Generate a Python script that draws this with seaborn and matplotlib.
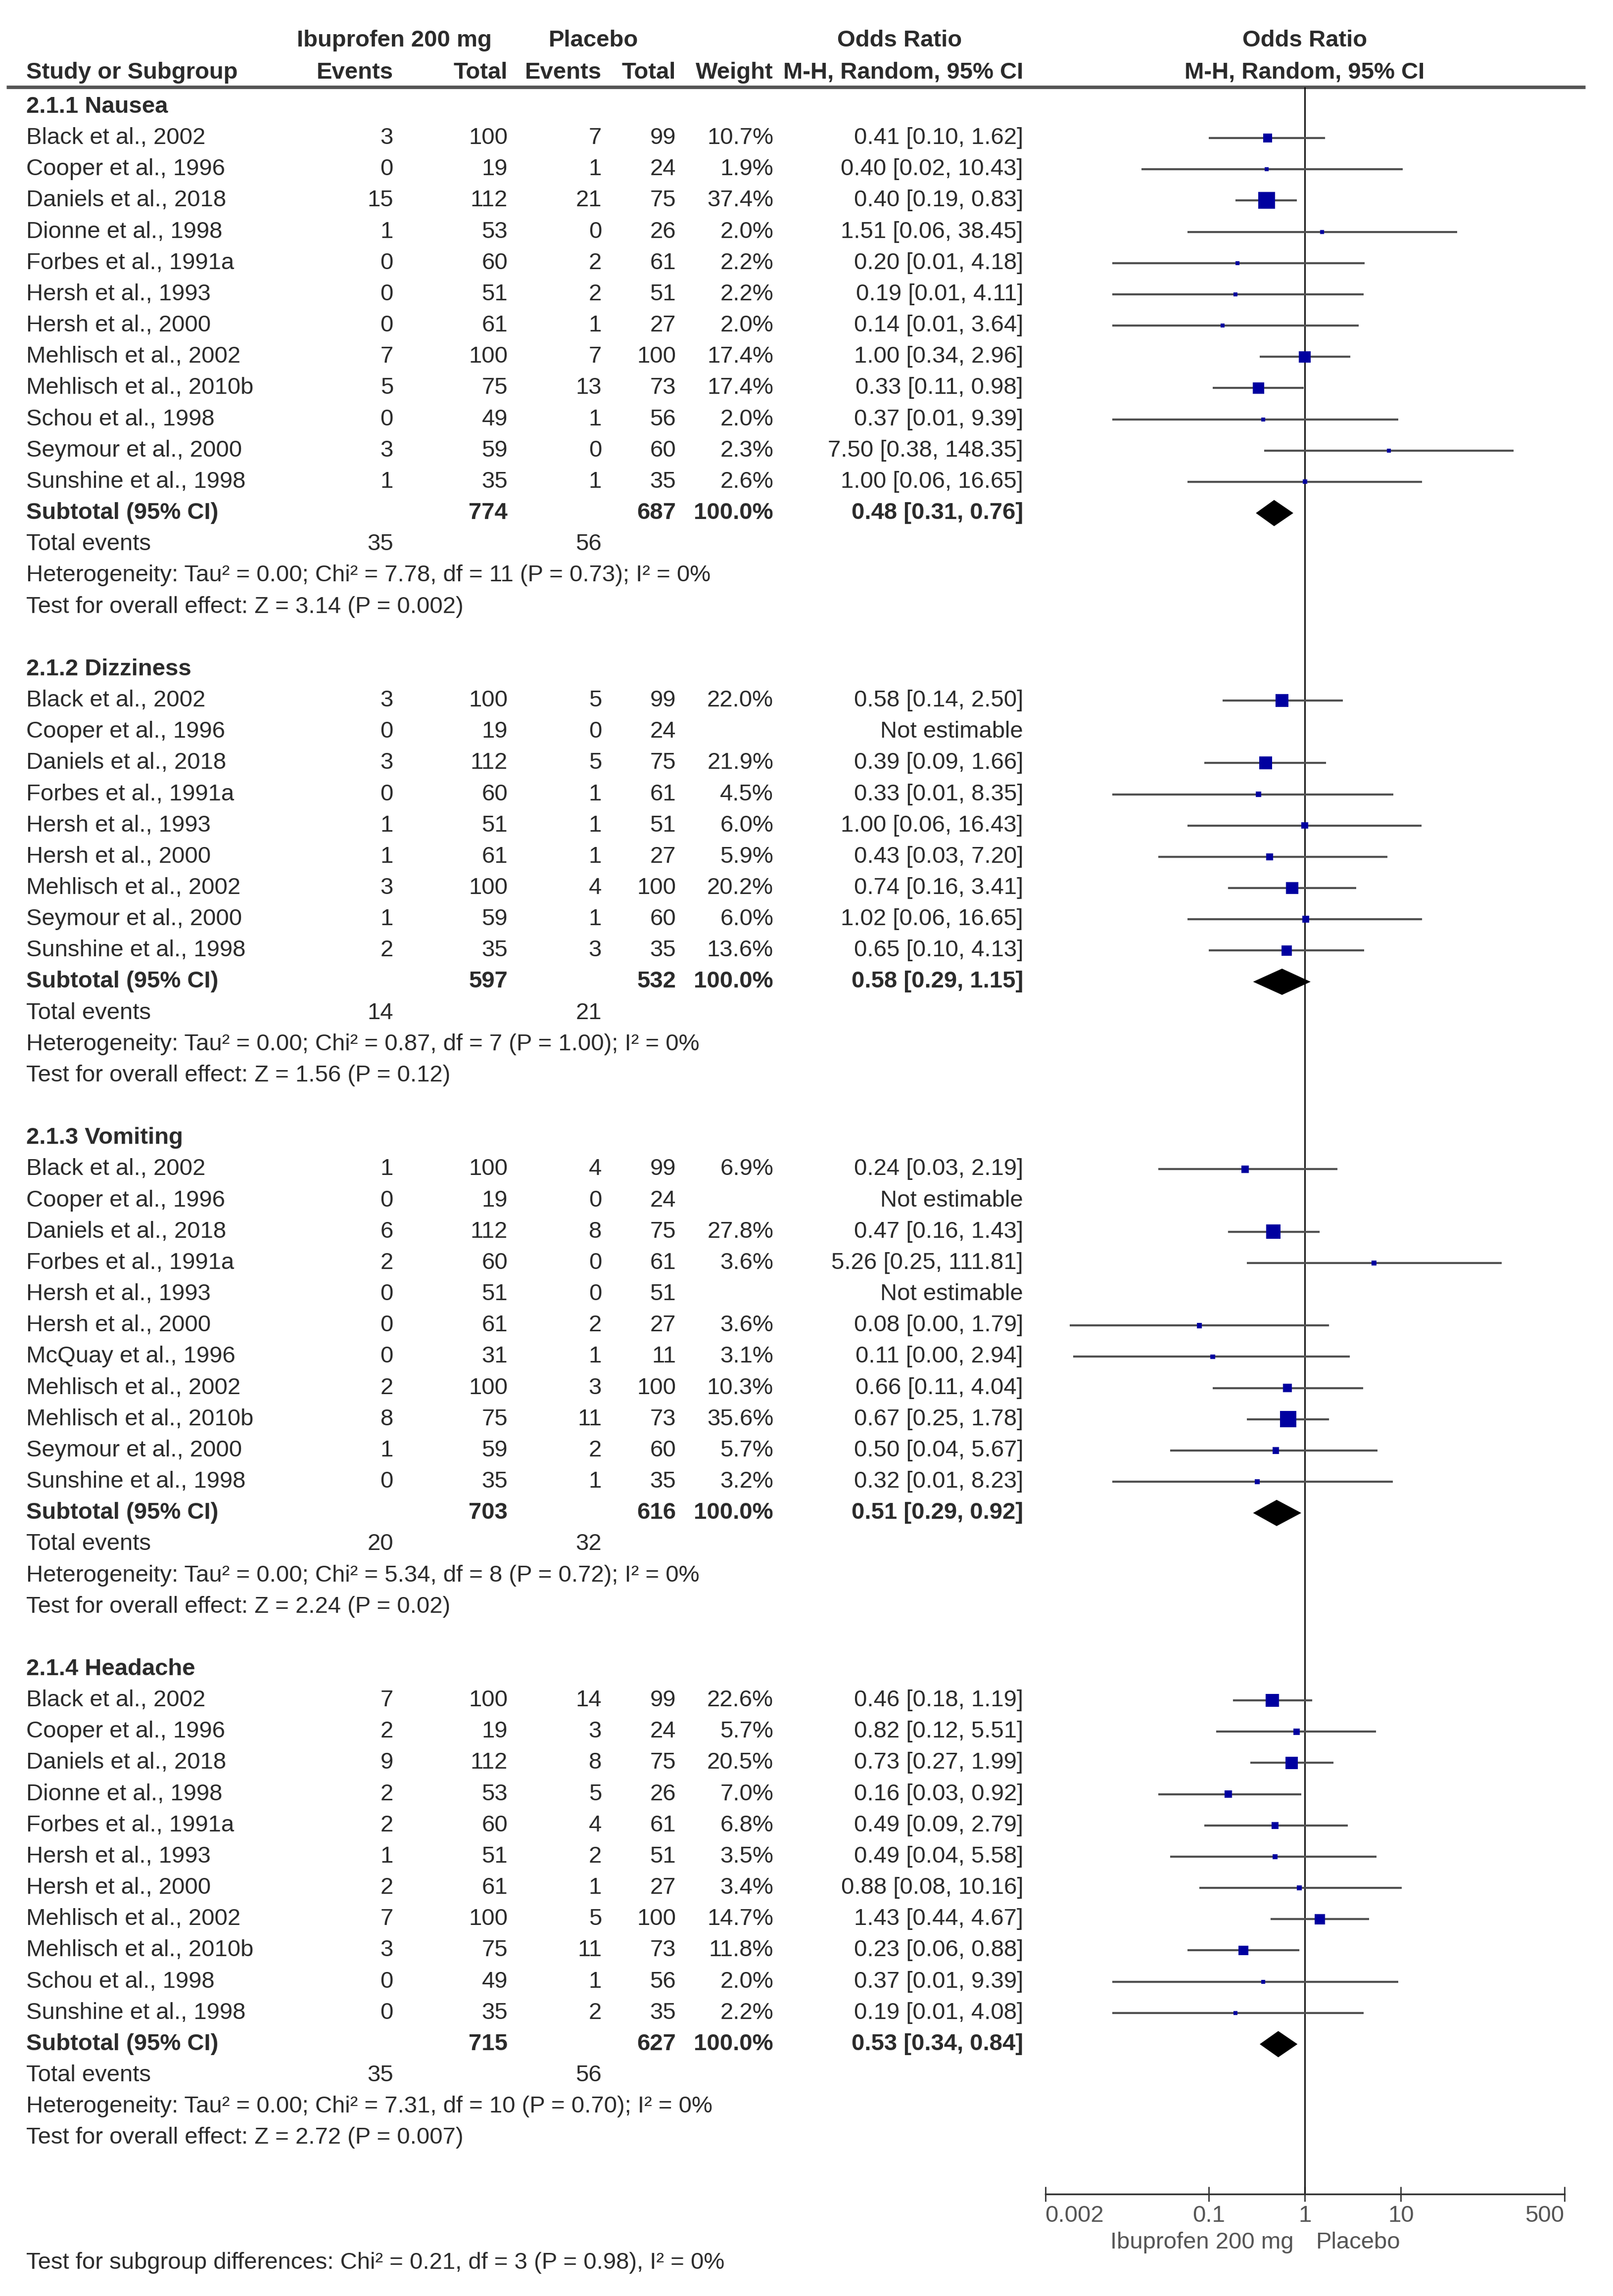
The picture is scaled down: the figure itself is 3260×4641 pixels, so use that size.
import numpy as np
import pandas as pd
import matplotlib.pyplot as plt
import matplotlib.ticker as mticker
import seaborn as sns

sns.set_theme(style='white')
plt.rcParams['font.family'] = ['Liberation Sans', 'DejaVu Sans']

# study rows: name, ibuprofen events, ibuprofen total, placebo events, placebo total, weight %, OR, CI low, CI high
nausea = [
    ('Black et al., 2002', 3, 100, 7, 99, 10.7, 0.41, 0.10, 1.62),
    ('Cooper et al., 1996', 0, 19, 1, 24, 1.9, 0.40, 0.02, 10.43),
    ('Daniels et al., 2018', 15, 112, 21, 75, 37.4, 0.40, 0.19, 0.83),
    ('Dionne et al., 1998', 1, 53, 0, 26, 2.0, 1.51, 0.06, 38.45),
    ('Forbes et al., 1991a', 0, 60, 2, 61, 2.2, 0.20, 0.01, 4.18),
    ('Hersh et al., 1993', 0, 51, 2, 51, 2.2, 0.19, 0.01, 4.11),
    ('Hersh et al., 2000', 0, 61, 1, 27, 2.0, 0.14, 0.01, 3.64),
    ('Mehlisch et al., 2002', 7, 100, 7, 100, 17.4, 1.00, 0.34, 2.96),
    ('Mehlisch et al., 2010b', 5, 75, 13, 73, 17.4, 0.33, 0.11, 0.98),
    ('Schou et al., 1998', 0, 49, 1, 56, 2.0, 0.37, 0.01, 9.39),
    ('Seymour et al., 2000', 3, 59, 0, 60, 2.3, 7.50, 0.38, 148.35),
    ('Sunshine et al., 1998', 1, 35, 1, 35, 2.6, 1.00, 0.06, 16.65),
]
dizziness = [
    ('Black et al., 2002', 3, 100, 5, 99, 22.0, 0.58, 0.14, 2.50),
    ('Cooper et al., 1996', 0, 19, 0, 24, None, None, None, None),
    ('Daniels et al., 2018', 3, 112, 5, 75, 21.9, 0.39, 0.09, 1.66),
    ('Forbes et al., 1991a', 0, 60, 1, 61, 4.5, 0.33, 0.01, 8.35),
    ('Hersh et al., 1993', 1, 51, 1, 51, 6.0, 1.00, 0.06, 16.43),
    ('Hersh et al., 2000', 1, 61, 1, 27, 5.9, 0.43, 0.03, 7.20),
    ('Mehlisch et al., 2002', 3, 100, 4, 100, 20.2, 0.74, 0.16, 3.41),
    ('Seymour et al., 2000', 1, 59, 1, 60, 6.0, 1.02, 0.06, 16.65),
    ('Sunshine et al., 1998', 2, 35, 3, 35, 13.6, 0.65, 0.10, 4.13),
]
vomiting = [
    ('Black et al., 2002', 1, 100, 4, 99, 6.9, 0.24, 0.03, 2.19),
    ('Cooper et al., 1996', 0, 19, 0, 24, None, None, None, None),
    ('Daniels et al., 2018', 6, 112, 8, 75, 27.8, 0.47, 0.16, 1.43),
    ('Forbes et al., 1991a', 2, 60, 0, 61, 3.6, 5.26, 0.25, 111.81),
    ('Hersh et al., 1993', 0, 51, 0, 51, None, None, None, None),
    ('Hersh et al., 2000', 0, 61, 2, 27, 3.6, 0.08, 0.0036, 1.79),
    ('McQuay et al., 1996', 0, 31, 1, 11, 3.1, 0.11, 0.0039, 2.94),
    ('Mehlisch et al., 2002', 2, 100, 3, 100, 10.3, 0.66, 0.11, 4.04),
    ('Mehlisch et al., 2010b', 8, 75, 11, 73, 35.6, 0.67, 0.25, 1.78),
    ('Seymour et al., 2000', 1, 59, 2, 60, 5.7, 0.50, 0.04, 5.67),
    ('Sunshine et al., 1998', 0, 35, 1, 35, 3.2, 0.32, 0.01, 8.23),
]
headache = [
    ('Black et al., 2002', 7, 100, 14, 99, 22.6, 0.46, 0.18, 1.19),
    ('Cooper et al., 1996', 2, 19, 3, 24, 5.7, 0.82, 0.12, 5.51),
    ('Daniels et al., 2018', 9, 112, 8, 75, 20.5, 0.73, 0.27, 1.99),
    ('Dionne et al., 1998', 2, 53, 5, 26, 7.0, 0.16, 0.03, 0.92),
    ('Forbes et al., 1991a', 2, 60, 4, 61, 6.8, 0.49, 0.09, 2.79),
    ('Hersh et al., 1993', 1, 51, 2, 51, 3.5, 0.49, 0.04, 5.58),
    ('Hersh et al., 2000', 2, 61, 1, 27, 3.4, 0.88, 0.08, 10.16),
    ('Mehlisch et al., 2002', 7, 100, 5, 100, 14.7, 1.43, 0.44, 4.67),
    ('Mehlisch et al., 2010b', 3, 75, 11, 73, 11.8, 0.23, 0.06, 0.88),
    ('Schou et al., 1998', 0, 49, 1, 56, 2.0, 0.37, 0.01, 9.39),
    ('Sunshine et al., 1998', 0, 35, 2, 35, 2.2, 0.19, 0.01, 4.08),
]
group_titles = ['2.1.1 Nausea', '2.1.2 Dizziness', '2.1.3 Vomiting', '2.1.4 Headache']
group_studies = [nausea, dizziness, vomiting, headache]

# subtotals per subgroup
sub_ibu_total = [774, 597, 703, 715]
sub_pla_total = [687, 532, 616, 627]
sub_or = [0.48, 0.58, 0.51, 0.53]
sub_lo = [0.31, 0.29, 0.29, 0.34]
sub_hi = [0.76, 1.15, 0.92, 0.84]
tot_ibu_events = [35, 14, 20, 35]
tot_pla_events = [56, 21, 32, 56]
het_tau2 = ['0.00', '0.00', '0.00', '0.00']
het_chi2 = ['7.78', '0.87', '5.34', '7.31']
het_df = [11, 7, 8, 10]
het_p = ['0.73', '1.00', '0.72', '0.70']
het_i2 = [0, 0, 0, 0]
z_val = ['3.14', '1.56', '2.24', '2.72']
z_p = ['0.002', '0.12', '0.02', '0.007']
subgroup_test = 'Test for subgroup differences: Chi² = 0.21, df = 3 (P = 0.98), I² = 0%'

tick_vals = [0.002, 0.1, 1, 10, 500]
tick_labels = ['0.002', '0.1', '1', '10', '500']

# ---- layout (pixel columns, row units) ----
W, H = 3260, 4641
row0, row_h = 216, 63.16
ytop, ybot = -row0 / row_h, (H - row0) / row_h
x_name, x_ie, x_it, x_pe, x_pt, x_w, x_or = 53, 795, 1026, 1216, 1366, 1563, 2068
fx0, fx1 = 2112.5, 3161.6
axis_row = 66.8
fs = 34
tc = '#2b2b2b'

fig = plt.figure(figsize=(W / 100, H / 100), dpi=100)
ax = fig.add_axes([0, 0, 1, 1])
ax.set_xlim(0, W)
ax.set_ylim(ybot, ytop)
ax.axis('off')

fax = fig.add_axes([fx0 / W, 0, (fx1 - fx0) / W, 1])
fax.patch.set_alpha(0)
fax.set_xscale('log')
fax.set_xlim(0.002, 500)
fax.set_ylim(ybot, ytop)


def txt(x, y, s, ha='left', bold=False, color=tc):
    ax.text(x, y, s, ha=ha, va='center', fontsize=fs, color=color,
            fontweight='bold' if bold else 'normal')


# header
txt(797, -2.12, 'Ibuprofen 200 mg', ha='center', bold=True)
txt(1200, -2.12, 'Placebo', ha='center', bold=True)
txt(1818, -2.12, 'Odds Ratio', ha='center', bold=True)
txt(2637, -2.12, 'Odds Ratio', ha='center', bold=True)
txt(x_name, -1.09, 'Study or Subgroup', bold=True)
for xx, s in [(x_ie, 'Events'), (x_it, 'Total'), (x_pe, 'Events'), (x_pt, 'Total'),
              (x_w, 'Weight'), (x_or, 'M-H, Random, 95% CI')]:
    txt(xx, -1.09, s, ha='right', bold=True)
txt(2637, -1.09, 'M-H, Random, 95% CI', ha='center', bold=True)
ax.hlines(-0.63, 13, 3204, color='#555555', lw=5)

recs = []
r = 0
for g, studies in enumerate(group_studies):
    txt(x_name, r, group_titles[g], bold=True)
    r += 1
    for st in studies:
        name, ie, it, pe, pt, w, o, lo, hi = st
        txt(x_name, r, name)
        txt(x_ie, r, str(ie), ha='right')
        txt(x_it, r, str(it), ha='right')
        txt(x_pe, r, str(pe), ha='right')
        txt(x_pt, r, str(pt), ha='right')
        if w is None:
            txt(x_or, r, 'Not estimable', ha='right')
        else:
            txt(x_w, r, f'{w:.1f}%', ha='right')
            txt(x_or, r, f'{o:.2f} [{lo:.2f}, {hi:.2f}]', ha='right')
            recs.append({'row': r, 'or': o, 'lo': lo, 'hi': hi, 'weight': w})
        r += 1
    # subtotal
    txt(x_name, r, 'Subtotal (95% CI)', bold=True)
    txt(x_it, r, str(sub_ibu_total[g]), ha='right', bold=True)
    txt(x_pt, r, str(sub_pla_total[g]), ha='right', bold=True)
    txt(x_w, r, '100.0%', ha='right', bold=True)
    txt(x_or, r, f'{sub_or[g]:.2f} [{sub_lo[g]:.2f}, {sub_hi[g]:.2f}]', ha='right', bold=True)
    dh = 0.42
    fax.fill([sub_lo[g], sub_or[g], sub_hi[g], sub_or[g]], [r, r - dh, r, r + dh],
             color='black', lw=0, zorder=4)
    r += 1
    txt(x_name, r, 'Total events')
    txt(x_ie, r, str(tot_ibu_events[g]), ha='right')
    txt(x_pe, r, str(tot_pla_events[g]), ha='right')
    r += 1
    txt(x_name, r, f'Heterogeneity: Tau² = {het_tau2[g]}; Chi² = {het_chi2[g]}, df = {het_df[g]} '
                   f'(P = {het_p[g]}); I² = {het_i2[g]}%')
    r += 1
    txt(x_name, r, f'Test for overall effect: Z = {z_val[g]} (P = {z_p[g]})')
    r += 2

df = pd.DataFrame(recs)

# forest: CI lines, weighted squares, line of no effect
fax.hlines(df['row'], df['lo'], df['hi'], color='#505050', lw=3, zorder=2)
sns.scatterplot(data=df, x='or', y='row', size='weight', sizes=(0, 1600), size_norm=(0, 100),
                marker='s', color='#0000a0', linewidth=0, legend=False, zorder=3, ax=fax)
fax.vlines(1, -0.63, axis_row, color='black', lw=2, zorder=1)

for side in ['top', 'left', 'right']:
    fax.spines[side].set_visible(False)
fax.spines['bottom'].set_position(('data', axis_row))
fax.spines['bottom'].set_color('#333333')
fax.spines['bottom'].set_linewidth(2.5)
fax.set_xticks(tick_vals)
fax.set_xticklabels(tick_labels)
fax.xaxis.set_minor_locator(mticker.NullLocator())
fax.set_yticks([])
fax.set_xlabel('')
fax.set_ylabel('')
fax.tick_params(axis='x', direction='inout', length=22, width=2, pad=5,
                labelsize=fs, labelcolor='#555555', color='#333333', bottom=True)
labs = fax.get_xticklabels()
labs[0].set_ha('left')
labs[-1].set_ha('right')

txt(2615, 68.35, 'Ibuprofen 200 mg', ha='right', color='#555555')
txt(2659, 68.35, 'Placebo', color='#555555')
txt(x_name, 69.0, subgroup_test)

fig.savefig('out.png', dpi=100)
